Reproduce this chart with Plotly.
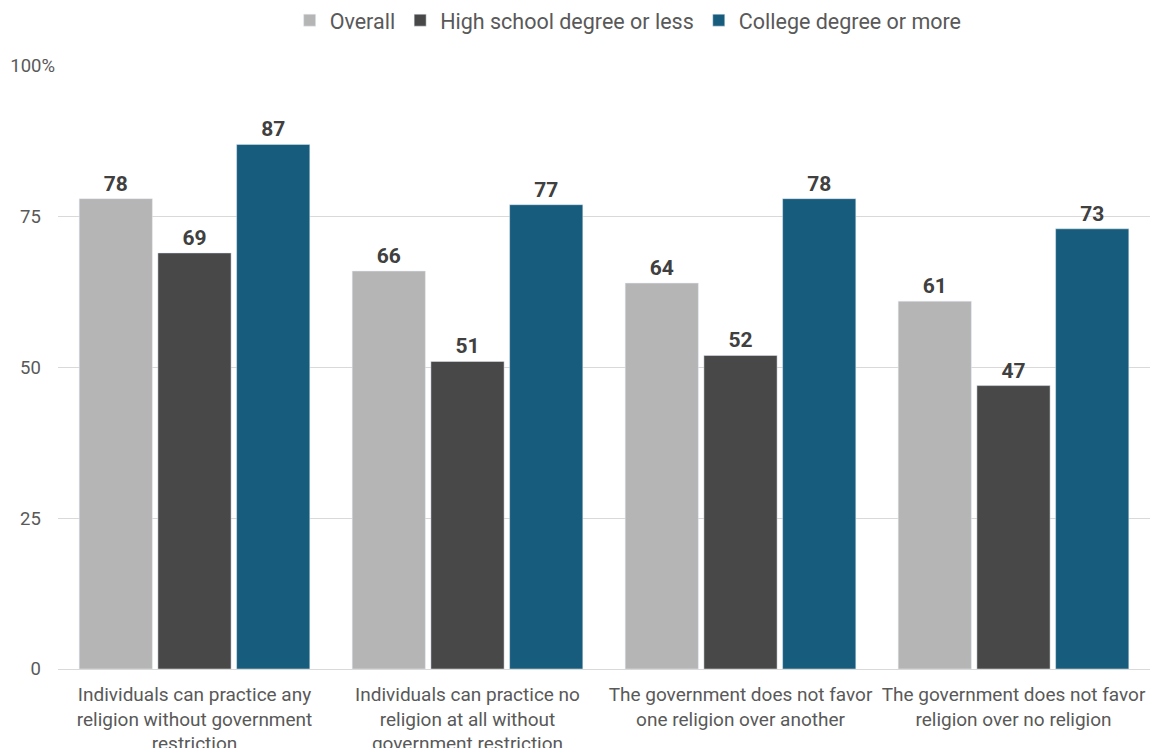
import plotly.graph_objects as go

categories = [
    "Individuals can practice any<br>religion without government<br>restriction",
    "Individuals can practice no<br>religion at all without<br>government restriction",
    "The government does not favor<br>one religion over another",
    "The government does not favor<br>religion over no religion",
]
series_names = ["Overall", "High school degree or less", "College degree or more"]
overall = [78, 66, 64, 61]
high_school = [69, 51, 52, 47]
college = [87, 77, 78, 73]
colors = ["#b5b5b5", "#484848", "#175c7c"]
tick_vals = [0, 25, 50, 75, 100]
pad = "\u2007\u2009"
tick_text = ["0" + pad, "25" + pad, "50" + pad, "75" + pad, "100%"]

fig = go.Figure()
for name, vals, col in zip(series_names, [overall, high_school, college], colors):
    fig.add_trace(go.Bar(
        x=categories, y=vals, name=name, marker_color=col,
        text=[str(v) for v in vals], textposition="outside",
        textfont=dict(family="Roboto", size=21, color="#404040", weight="bold"),
        cliponaxis=False,
    ))

fig.update_layout(
    width=1154, height=748,
    margin=dict(l=58, r=4, t=66, b=79),
    paper_bgcolor="white", plot_bgcolor="white",
    barmode="group", bargap=0.135, bargroupgap=0.07,
    font=dict(family="Roboto", color="#595959", size=18),
    legend=dict(orientation="h", x=0.251, xref="container", xanchor="left",
                y=0.973, yanchor="middle", yref="container",
                font=dict(size=21.5, color="#595959"),
                traceorder="normal", itemwidth=30),
    xaxis=dict(showgrid=False, showline=True, linecolor="#d9d9d9", linewidth=1,
               tickfont=dict(size=19, color="#595959"), ticks="", automargin=False,
               ticklabelstandoff=8),
    yaxis=dict(range=[0, 100], tickvals=tick_vals, ticktext=tick_text,
               showgrid=True, gridcolor="#d9d9d9", gridwidth=1, zeroline=False,
               tickfont=dict(size=18.5, color="#595959"), ticklabelstandoff=2,
               automargin=False),
)
fig.write_html("out.html", post_script="document.body.style.margin='0';",
               config={"displayModeBar": False})
